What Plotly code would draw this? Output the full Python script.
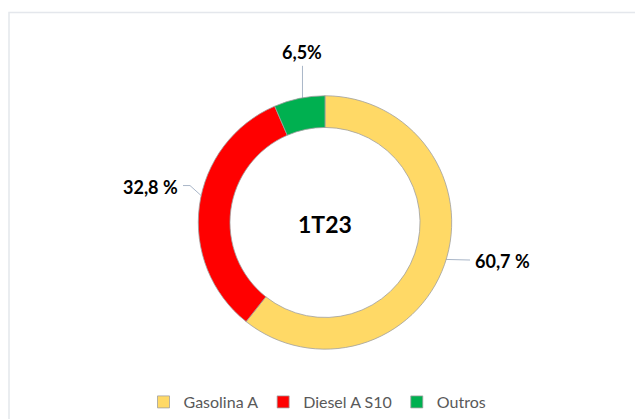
import math
import plotly.graph_objects as go

# ---- data ----
categories = ["Gasolina A", "Diesel A S10", "Outros"]
values = [60.7, 32.8, 6.5]
value_labels = ["60,7 %", "32,8 %", "6,5%"]
center_label = "1T23"
colors = ["#FFD966", "#FF0000", "#00B050"]

# ---- layout constants (pixels) ----
W, H = 635, 419
CX, CY, R_OUT = 325, 223, 127
HOLE = 0.75
R_MID = R_OUT * (1 + HOLE) / 2
FONT = "Lato, 'Open Sans', sans-serif"
LINE_COLOR = "#A9B6C8"

fig = go.Figure()

fig.add_trace(go.Pie(
    labels=categories, values=values, hole=HOLE, sort=False,
    direction="clockwise", rotation=0,
    marker=dict(colors=colors, line=dict(color="#A0A0A0", width=0.8)),
    textinfo="none", hoverinfo="label+percent",
    domain=dict(x=[(CX - R_OUT) / W, (CX + R_OUT) / W],
                y=[(H - CY - R_OUT) / H, (H - CY + R_OUT) / H]),
))

# anchors on the ring middle from data
total = sum(values)
anchors = []
cum = 0.0
for v in values:
    f = (cum + v / 2) / total
    th = 2 * math.pi * f
    anchors.append((CX + R_MID * math.sin(th), CY - R_MID * math.cos(th)))
    cum += v

# label placements (layout)
label_pos = [(473, None, "left"), (180, 187, "right"), (None, 52, "center")]

annotations = []
for i, (lab, (ax, ay), (lx, ly, anc)) in enumerate(zip(value_labels, anchors, label_pos)):
    if anc == "left":
        ty = ay + 2
        xs, ys = [ax, lx - 3], [ay, ay + 1]
        tx = lx
    elif anc == "right":
        ty = ly
        xs, ys = [lx + 3, lx + 10, ax], [ly - 1, ly - 1, ay]
        tx = lx
    else:
        tx = ax
        ty = ly
        xs, ys = [ax, ax], [ly + 14, ay]
    fig.add_trace(go.Scatter(x=xs, y=ys, mode="lines",
                             line=dict(color=LINE_COLOR, width=1),
                             hoverinfo="skip", showlegend=False))
    annotations.append(dict(x=tx, y=ty, xref="x", yref="y", text="<b>%s</b>" % lab,
                            showarrow=False, xanchor=anc, yanchor="middle",
                            font=dict(family=FONT, size=18, color="#000000")))

annotations.append(dict(x=CX, y=CY + 2, xref="x", yref="y", text="<b>%s</b>" % center_label,
                        showarrow=False, xanchor="center", yanchor="middle",
                        font=dict(family=FONT, size=23, color="#000000")))

fig.update_layout(
    width=W, height=H,
    margin=dict(l=0, r=0, t=0, b=0, pad=0),
    paper_bgcolor="white", plot_bgcolor="rgba(0,0,0,0)",
    xaxis=dict(range=[0, W], domain=[0, 1], visible=False, fixedrange=True),
    yaxis=dict(range=[H, 0], domain=[0, 1], visible=False, fixedrange=True),
    showlegend=True,
    legend=dict(orientation="h", x=0.5, xanchor="center", y=(H - 403) / H, yanchor="middle",
                font=dict(family=FONT, size=16, color="#595959"),
                itemwidth=30, traceorder="normal", bgcolor="rgba(0,0,0,0)"),
    annotations=annotations,
    shapes=[dict(type="rect", xref="paper", yref="paper",
                 x0=9 / W, x1=1.05, y0=-0.05, y1=1 - 12.5 / H,
                 line=dict(color="#E4E7EC", width=1.5), fillcolor="rgba(0,0,0,0)",
                 layer="below")],
)

fig.write_html("out.html")
